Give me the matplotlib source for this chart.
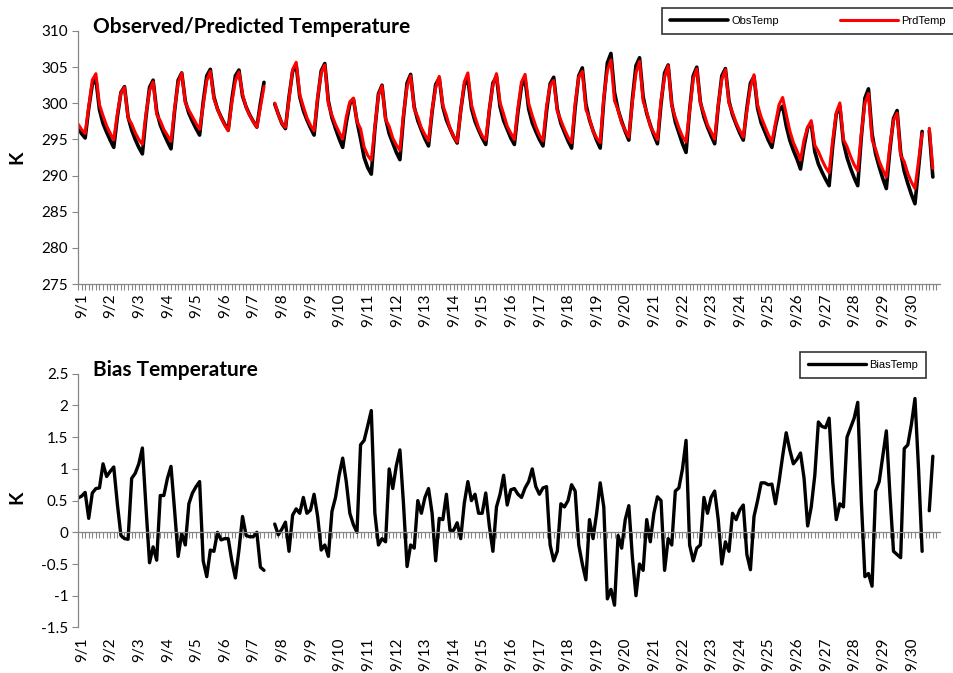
import numpy as np
import matplotlib.pyplot as plt
from matplotlib.transforms import ScaledTranslation

nan = np.nan

# 3-hourly values, one row per day (00, 03, ..., 21 h)
day_labels = ['9/%d' % d for d in range(1, 31)]

obs_temp = [
    296.6, 295.8, 295.2, 299.3, 302.6, 303.4, 299.1, 297.2,
    296.0, 294.9, 293.9, 298.1, 301.5, 302.3, 298.1, 296.3,
    295.0, 293.9, 293.0, 298.1, 302.2, 303.2, 298.9, 297.0,
    295.8, 294.7, 293.7, 298.9, 303.2, 304.2, 300.3, 298.6,
    297.5, 296.5, 295.6, 300.2, 303.8, 304.7, 300.9, 299.2,
    298.1, 297.1, 296.3, 300.5, 303.8, 304.6, 301.0, 299.5,
    298.4, 297.5, 296.7, 300.0, 302.9, nan, nan, 299.9,
    298.5, 297.2, 296.5, 300.9, 304.4, 305.3, 300.9, 299.0,
    297.7, 296.6, 295.6, 300.6, 304.5, 305.5, 300.3, 298.0,
    296.5, 295.1, 293.9, 297.3, 299.9, 300.6, 297.5, 295.1,
    292.5, 291.1, 290.2, 296.4, 301.3, 302.5, 297.9, 295.8,
    294.5, 293.2, 292.2, 298.1, 302.8, 304.0, 299.5, 297.6,
    296.3, 295.1, 294.1, 298.8, 302.6, 303.5, 299.5, 297.7,
    296.5, 295.4, 294.5, 299.0, 302.5, 303.4, 299.3, 297.5,
    296.3, 295.2, 294.3, 299.0, 302.8, 303.7, 299.5, 297.6,
    296.4, 295.2, 294.3, 298.8, 302.4, 303.3, 299.2, 297.3,
    296.1, 295.0, 294.1, 298.9, 302.7, 303.6, 299.2, 297.2,
    296.0, 294.8, 293.8, 299.4, 303.8, 304.9, 299.9, 297.7,
    296.2, 294.9, 293.8, 300.4, 305.6, 306.9, 301.5, 299.1,
    297.5, 296.1, 294.9, 300.6, 305.2, 306.3, 300.9, 298.6,
    297.0, 295.6, 294.4, 299.9, 304.2, 305.3, 299.9, 297.4,
    295.9, 294.4, 293.2, 299.1, 303.8, 305.0, 300.2, 298.1,
    296.7, 295.5, 294.4, 299.6, 303.8, 304.8, 300.3, 298.4,
    297.1, 295.9, 294.9, 299.3, 302.8, 303.7, 299.3, 297.3,
    296.1, 294.9, 293.9, 296.8, 299.0, 299.6, 296.9, 294.9,
    293.5, 292.3, 290.9, 294.1, 296.6, 297.2, 293.3, 291.6,
    290.5, 289.5, 288.6, 294.1, 298.5, 299.6, 294.6, 292.5,
    291.0, 289.7, 288.6, 295.3, 300.7, 302.0, 295.8, 293.0,
    291.2, 289.6, 288.2, 293.6, 297.9, 299.0, 293.2, 290.6,
    288.9, 287.4, 286.1, 291.0, 296.1, nan, 296.2, 289.8,
]

# predicted minus observed
bias_temp = [
    0.54, 0.57, 0.63, 0.22, 0.62, 0.69, 0.70, 1.08,
    0.88, 0.96, 1.03, 0.45, -0.05, -0.10, -0.11, 0.85,
    0.93, 1.08, 1.33, 0.40, -0.48, -0.23, -0.44, 0.58,
    0.58, 0.85, 1.04, 0.35, -0.38, -0.02, -0.20, 0.45,
    0.62, 0.72, 0.80, -0.45, -0.70, -0.28, -0.30, 0.00,
    -0.12, -0.10, -0.10, -0.45, -0.72, -0.28, 0.25, -0.05,
    -0.07, -0.07, 0.00, -0.55, -0.60, nan, nan, 0.13,
    -0.04, 0.05, 0.16, -0.30, 0.27, 0.37, 0.30, 0.55,
    0.30, 0.35, 0.60, 0.25, -0.28, -0.20, -0.38, 0.33,
    0.55, 0.90, 1.17, 0.80, 0.30, 0.12, 0.00, 1.38,
    1.45, 1.68, 1.92, 0.30, -0.20, -0.10, -0.15, 1.00,
    0.69, 1.05, 1.30, 0.45, -0.54, -0.20, -0.25, 0.50,
    0.30, 0.55, 0.69, 0.30, -0.45, 0.22, 0.20, 0.60,
    0.03, 0.03, 0.15, -0.10, 0.46, 0.80, 0.50, 0.60,
    0.30, 0.30, 0.62, 0.10, -0.30, 0.40, 0.60, 0.90,
    0.43, 0.67, 0.69, 0.60, 0.55, 0.70, 0.80, 1.00,
    0.72, 0.60, 0.70, 0.72, -0.20, -0.45, -0.30, 0.45,
    0.40, 0.50, 0.75, 0.65, -0.20, -0.50, -0.75, 0.20,
    -0.10, 0.30, 0.78, 0.40, -1.05, -0.90, -1.15, -0.05,
    -0.25, 0.20, 0.42, -0.40, -1.00, -0.50, -0.60, 0.20,
    -0.15, 0.30, 0.56, 0.50, -0.60, -0.10, -0.20, 0.65,
    0.70, 1.00, 1.45, -0.20, -0.45, -0.25, -0.20, 0.55,
    0.30, 0.55, 0.65, 0.20, -0.50, -0.15, -0.30, 0.30,
    0.20, 0.35, 0.43, -0.35, -0.59, 0.25, 0.50, 0.78,
    0.78, 0.75, 0.76, 0.45, 0.80, 1.20, 1.57, 1.30,
    1.08, 1.15, 1.25, 0.85, 0.10, 0.40, 0.90, 1.74,
    1.67, 1.65, 1.80, 0.80, 0.20, 0.45, 0.40, 1.50,
    1.65, 1.80, 2.05, 0.50, -0.70, -0.65, -0.85, 0.65,
    0.80, 1.20, 1.60, 0.60, -0.30, -0.35, -0.40, 1.32,
    1.38, 1.70, 2.11, 1.00, -0.30, nan, 0.34, 1.20,
]

obs = np.array(obs_temp)
bias = np.array(bias_temp)
prd = obs + bias
x = np.arange(len(obs))

plt.rcParams['font.family'] = 'Lato'
grey = '#868686'

fig = plt.figure(figsize=(9.54, 6.73), dpi=100)
ax1 = fig.add_axes([78 / 954, 1 - 284 / 673, 862 / 954, 253 / 673])
ax2 = fig.add_axes([78 / 954, 1 - 627.4 / 673, 862 / 954, 253.6 / 673])

line_kw = dict(solid_joinstyle='round', solid_capstyle='round')
ax1.plot(x, obs, color='black', lw=2.6, label='ObsTemp', **line_kw)
ax1.plot(x, prd, color='red', lw=2.2, label='PrdTemp', **line_kw)
ax2.plot(x, bias, color='black', lw=2.4, label='BiasTemp', **line_kw)

shift = ScaledTranslation(0.04, 0, fig.dpi_scale_trans)

for ax in (ax1, ax2):
    ax.set_xlim(0, 241)
    for s in ('top', 'right'):
        ax.spines[s].set_visible(False)
    for s in ('left', 'bottom'):
        ax.spines[s].set_color(grey)
        ax.spines[s].set_linewidth(0.9)
    ax.set_xticks(range(0, 240, 8))
    ax.set_xticks(range(0, 241), minor=True)
    ax.tick_params(axis='both', which='both', direction='out', length=4,
                   color=grey, width=0.8, labelsize=11, pad=3)

ax1.set_ylim(275, 310)
ax1.set_yticks(range(275, 311, 5))
ax1.set_xticklabels(day_labels, rotation=90)
for lab in ax1.get_xticklabels():
    lab.set_transform(lab.get_transform() + shift)

ax2.set_ylim(-1.5, 2.5)
yt = np.arange(-1.5, 2.51, 0.5)
ax2.set_yticks(yt)
ax2.set_yticklabels(['%g' % v for v in yt])
ax2.spines['bottom'].set_position(('data', 0))
ax2.tick_params(axis='x', labelbottom=False)
sec = ax2.secondary_xaxis('bottom')
sec.set_xticks(range(0, 240, 8))
sec.set_xticklabels(day_labels, rotation=90)
sec.tick_params(length=0, labelsize=11, pad=7)
sec.spines['bottom'].set_visible(False)
for lab in sec.get_xticklabels():
    lab.set_transform(lab.get_transform() + shift)

fig.text(93 / 954, 1 - 27 / 673, 'Observed/Predicted Temperature',
         fontsize=15, fontweight='bold', va='center')
fig.text(93 / 954, 1 - 370 / 673, 'Bias Temperature',
         fontsize=15, fontweight='bold', va='center')
fig.text(17 / 954, 1 - 157 / 673, 'K', fontsize=14, fontweight='bold',
         rotation=90, va='center', ha='center')
fig.text(17 / 954, 1 - 497 / 673, 'K', fontsize=14, fontweight='bold',
         rotation=90, va='center', ha='center')

leg_font = {'family': 'Liberation Sans', 'size': 8}
leg1 = fig.legend(handles=ax1.get_lines(), loc='center', ncol=2,
                  bbox_to_anchor=(808 / 954, 1 - 21 / 673), prop=leg_font,
                  frameon=True, fancybox=False, edgecolor='black',
                  handlelength=5.2, columnspacing=5.5, handletextpad=0.3,
                  borderpad=0.75, borderaxespad=0)
leg1.get_frame().set_linewidth(1.2)
leg2 = fig.legend(handles=ax2.get_lines(), loc='center',
                  bbox_to_anchor=(863 / 954, 1 - 365 / 673), prop=leg_font,
                  frameon=True, fancybox=False, edgecolor='black',
                  handlelength=5.2, handletextpad=0.3,
                  borderpad=0.75, borderaxespad=0)
leg2.get_frame().set_linewidth(1.2)
for leg in (leg1, leg2):
    leg._legend_box.align = 'center'

fig.savefig('out.png', dpi=100)
